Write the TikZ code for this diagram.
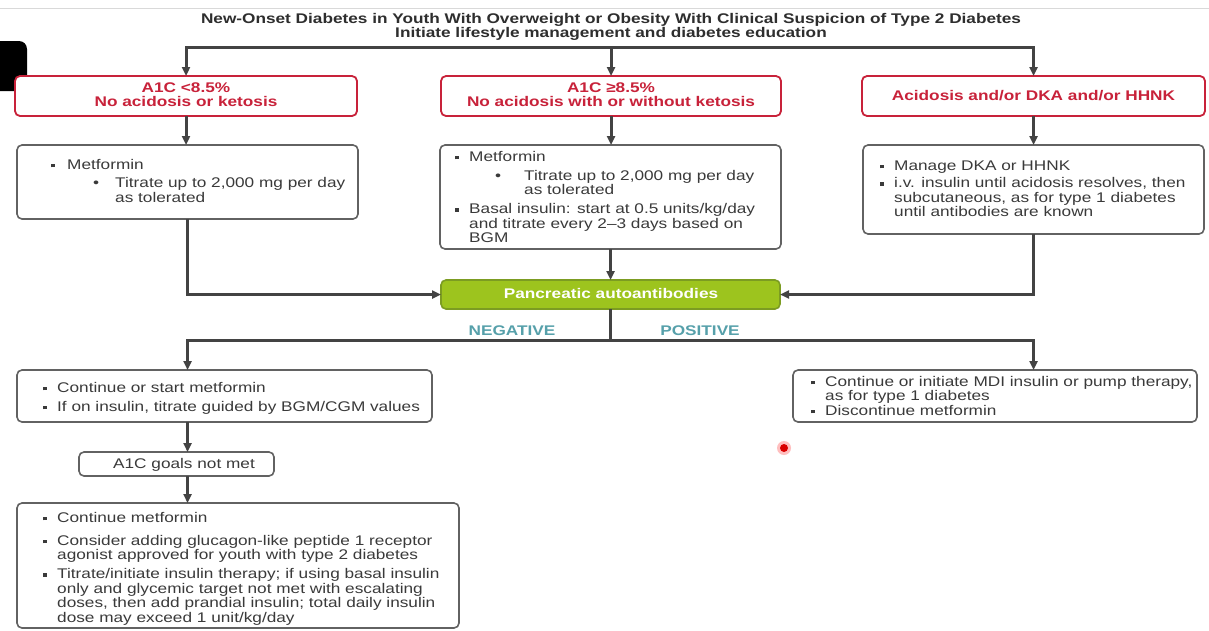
\documentclass[tikz,border=0pt]{standalone}
\usepackage{fontspec}
\setmainfont{Liberation Sans}[FakeStretch=1.23]
\usetikzlibrary{arrows.meta}
\definecolor{lnc}{HTML}{434343}
\definecolor{bxc}{HTML}{626262}
\definecolor{redc}{HTML}{C8223A}
\definecolor{txc}{HTML}{3A3A3A}
\definecolor{titc}{HTML}{2E2E2E}
\definecolor{grnf}{HTML}{9DC41E}
\definecolor{grnd}{HTML}{7C9C22}
\definecolor{tealc}{HTML}{56A0AA}
\newcommand\sqb{\rule[1.8pt]{3.8pt}{3.8pt}}
\newcommand\mkbox[6]{\node[#6, minimum width={(#4)-(#2)}, minimum height={(#5)-(#3)}] (#1) at ({((#2)+(#4))/2},{((#3)+(#5))/2}) {};}
\tikzset{
  ln/.style={draw=lnc, line width=3pt},
  arr/.style={ln, -{Triangle[length=9pt,width=8pt]}},
  gbox/.style={draw=bxc, line width=1.6pt, rounded corners=5pt, fill=white, inner sep=0pt, outer sep=0pt},
  rbox/.style={draw=redc, line width=1.8pt, rounded corners=5pt, fill=white, inner sep=0pt, outer sep=0pt},
  grbox/.style={draw=grnd, line width=1.6pt, rounded corners=5pt, fill=grnf, inner sep=0pt, outer sep=0pt},
  txt/.style={inner sep=0pt, anchor=north west, align=left, text=txc, font=\fontsize{14}{14.5}\selectfont},
  ctxt/.style={inner sep=0pt, anchor=north, align=center, font=\bfseries\fontsize{14}{14.5}\selectfont},
}
\begin{document}
\begin{tikzpicture}[x=1pt,y=-1pt]
\useasboundingbox (0,0) rectangle (1209,630);
\fill[white] (0,0) rectangle (1209,630);
% screen artifacts
\draw[black!15, line width=1pt] (0,8) -- (1209,8);
\fill[black, rounded corners=8pt] (-12,41) rectangle (27,91);
\fill[red!25] (784,448) circle (7);
\fill[red!85!black] (784,448) circle (4);

% title
\node[ctxt, text=titc] (title) at (611,{23-10.15}) {\strut New-Onset Diabetes in Youth With Overweight or Obesity With Clinical Suspicion of Type 2 Diabetes\\Initiate lifestyle management and diabetes education};

% boxes
\mkbox{r1}{15}{76}{357}{116}{rbox}
\mkbox{r2}{441}{76}{781}{116}{rbox}
\mkbox{r3}{862}{76}{1205}{116}{rbox}
\mkbox{b1}{17}{145}{358}{219}{gbox}
\mkbox{b2}{440}{145}{781}{249}{gbox}
\mkbox{b3}{863}{145}{1204}{234}{gbox}
\mkbox{g}{441}{280}{780}{309}{grbox}
\mkbox{n1}{17}{370}{432}{422}{gbox}
\mkbox{a1c}{79}{452}{274}{476}{gbox}
\mkbox{n3}{17}{503}{459}{628}{gbox}
\mkbox{p1}{793}{370}{1197}{422}{gbox}

% red box texts
\node[ctxt, text=redc] (tr1) at (186,{92-10.15}) {\strut A1C <8.5\%\\No acidosis or ketosis};
\node[ctxt, text=redc] (tr2) at (611,{92-10.15}) {\strut A1C ≥8.5\%\\No acidosis with or without ketosis};
\node[ctxt, text=redc] (tr3) at (1033.5,{100-10.15}) {\strut Acidosis and/or DKA and/or HHNK};

% body texts
\node[txt] (tb1) at (51,{169-10.15}) {\strut\makebox[16pt][l]{\sqb}Metformin\\[4pt]
\hspace*{42pt}\makebox[22pt][l]{•}Titrate up to 2,000 mg per day\\
\hspace*{64pt}as tolerated};
\node[txt] (tb2) at (455,{161-10.15}) {\strut\makebox[14pt][l]{\sqb}Metformin\\[4.5pt]
\hspace*{40pt}\makebox[29pt][l]{•}Titrate up to 2,000 mg per day\\
\hspace*{69pt}as tolerated\\[4.5pt]
\makebox[14pt][l]{\sqb}Basal insulin: start at 0.5 units/kg/day\\
\hspace*{14pt}and titrate every 2–3 days based on\\
\hspace*{14pt}BGM};
\node[txt] (tb3) at (880,{170-10.15}) {\strut\makebox[14pt][l]{\sqb}Manage DKA or HHNK\\[3pt]
\makebox[14pt][l]{\sqb}i.v. insulin until acidosis resolves, then\\
\hspace*{14pt}subcutaneous, as for type 1 diabetes\\
\hspace*{14pt}until antibodies are known};
\node[ctxt, text=white] (tg) at (611,{298.5-10.15}) {\strut Pancreatic autoantibodies};
\node[ctxt, text=tealc] (neg) at (512,{335.5-10.15}) {\strut NEGATIVE};
\node[ctxt, text=tealc] (pos) at (700,{335.5-10.15}) {\strut POSITIVE};
\node[txt] (tn1) at (43,{392-10.15}) {\strut\makebox[14pt][l]{\sqb}Continue or start metformin\\[4.5pt]
\makebox[14pt][l]{\sqb}If on insulin, titrate guided by BGM/CGM values};
\node[txt, anchor=north, align=center] (ta1c) at (184,{468.5-10.15}) {\strut A1C goals not met};
\node[txt] (tn3) at (43,{522-10.15}) {\strut\makebox[14pt][l]{\sqb}Continue metformin\\[8.5pt]
\makebox[14pt][l]{\sqb}Consider adding glucagon-like peptide 1 receptor\\
\hspace*{14pt}agonist approved for youth with type 2 diabetes\\[4.5pt]
\makebox[14pt][l]{\sqb}Titrate/initiate insulin therapy; if using basal insulin\\
\hspace*{14pt}only and glycemic target not met with escalating\\
\hspace*{14pt}doses, then add prandial insulin; total daily insulin\\
\hspace*{14pt}dose may exceed 1 unit/kg/day};
\node[txt] (tp1) at (811,{386-10.15}) {\strut\makebox[14pt][l]{\sqb}Continue or initiate MDI insulin or pump therapy,\\
\hspace*{14pt}as for type 1 diabetes\\
\makebox[14pt][l]{\sqb}Discontinue metformin};

% connectors
\coordinate (bary) at (0,47);
\coordinate (bar2) at (0,340);
\draw[ln, line cap=rect] (r1.north |- bary) -- (r3.north |- bary);
\draw[arr] (r1.north |- bary) -- (r1.north);
\draw[arr] (r2.north |- bary) -- (r2.north);
\draw[arr] (r3.north |- bary) -- (r3.north);
\draw[arr] (r1.south) -- (r1.south |- b1.north);
\draw[arr] (r2.south) -- (r2.south |- b2.north);
\draw[arr] (r3.south) -- (r3.south |- b3.north);
\draw[arr] (b1.south) |- (g.west);
\draw[arr] (b2.south) -- (g.north);
\draw[arr] (b3.south) |- (g.east);
\draw[ln] (g.south) -- (g.south |- bar2);
\draw[ln, line cap=rect] (b1.south |- bar2) -- (b3.south |- bar2);
\draw[arr] (b1.south |- bar2) -- (b1.south |- n1.north);
\draw[arr] (b3.south |- bar2) -- (b3.south |- p1.north);
\draw[arr] (b1.south |- n1.south) -- (b1.south |- a1c.north);
\draw[arr] (b1.south |- a1c.south) -- (b1.south |- n3.north);
\end{tikzpicture}
\end{document}
